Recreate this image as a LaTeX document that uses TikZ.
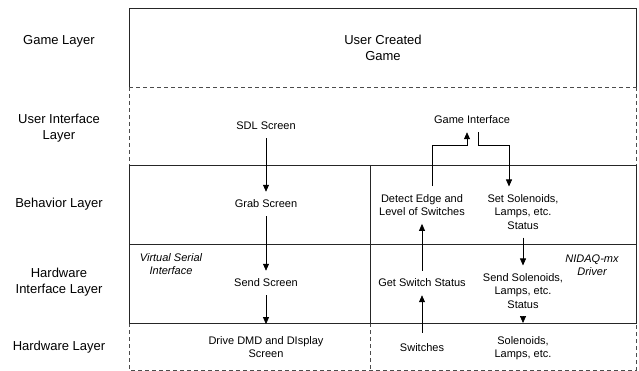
\documentclass[tikz,border=0pt]{standalone}
\usepackage{fontspec}
\setmainfont{Liberation Sans}
\usetikzlibrary{arrows.meta}
\begin{document}
\begin{tikzpicture}[x=1pt,y=-1pt,
  solidline/.style={line width=0.8pt,black!85},
  dashline/.style={line width=0.8pt,black!70,dash pattern=on 4pt off 3pt},
  arr/.style={line width=0.7pt,-{Triangle[length=7pt,width=6pt]}},
  layerlabel/.style={font=\fontsize{13}{16}\selectfont,align=center,inner sep=0pt},
  inner/.style={font=\fontsize{11}{13.3}\selectfont,align=center,inner xsep=2pt,inner ysep=8pt},
  note/.style={font=\fontsize{11}{13.3}\selectfont\itshape,align=center,inner sep=0pt}]
\useasboundingbox (0,0) rectangle (639,371);
% frames
\draw[solidline] (129,87) -- (129,8) -- (636,8) -- (636,87);
\draw[dashline] (129,87) -- (636,87);
\draw[dashline] (129,87) -- (129,165);
\draw[dashline] (636,87) -- (636,165);
\draw[dashline] (129,323) -- (129,370) -- (636,370) -- (636,323);
\draw[dashline] (370,323) -- (370,370);
\draw[solidline] (129,165) rectangle (636,323);
\draw[solidline] (129,244) -- (636,244);
\draw[solidline] (370,165) -- (370,323);
% layer labels
\node[layerlabel] (lgame) at (59,41) {Game Layer};
\node[layerlabel] (lui) at (59,128) {User Interface\\Layer};
\node[layerlabel] (lbeh) at (59,204) {Behavior Layer};
\node[layerlabel] (lhwi) at (59,282) {Hardware\\Interface Layer};
\node[layerlabel] (lhw) at (59,347) {Hardware Layer};
% contents
\node[layerlabel] (ucg) at (383,48) {User Created\\Game};
\node[inner] (sdl) at (266,126) {SDL Screen};
\node[inner] (grab) at (266,204) {Grab Screen};
\node[inner] (send) at (266,283) {Send Screen};
\node[inner] (drive) at (266,347) {Drive DMD and DIsplay\\Screen};
\node[note] (vsi) at (171,264) {Virtual Serial\\Interface};
\node[inner] (gi) at (472,120) {Game Interface};
\node[inner] (detect) at (422,205) {Detect Edge and\\Level of Switches};
\node[inner] (getsw) at (422,283) {Get Switch Status};
\node[inner] (switches) at (422,348) {Switches};
\node[inner] (setsol) at (523,212) {Set Solenoids,\\Lamps, etc.\\Status};
\node[inner] (sendsol) at (523,291) {Send Solenoids,\\Lamps, etc.\\Status};
\node[inner] (sol) at (523,348) {Solenoids,\\Lamps, etc.};
\node[note] (nidaq) at (592,265) {NIDAQ-mx\\Driver};
% connectors
\draw[arr] (sdl) -- (grab);
\draw[arr] (grab) -- (send);
\draw[arr] (send) -- ([yshift=4pt]drive.north);
\draw[arr] ([yshift=3pt]switches.north) -- (getsw);
\draw[arr] (getsw) -- (detect);
\draw[arr] ([xshift=10pt]detect.north) |- ([xshift=-5pt,yshift=-13pt]gi.south) -- ([xshift=-5pt]gi.south);
\draw[arr] ([xshift=6pt]gi.south) -- ++(0,13) -| ([xshift=-14pt]setsol.north);
\draw[arr] (setsol) -- (sendsol);
\draw[arr] (sendsol) -- ([yshift=5pt]sol.north);
\end{tikzpicture}
\end{document}
